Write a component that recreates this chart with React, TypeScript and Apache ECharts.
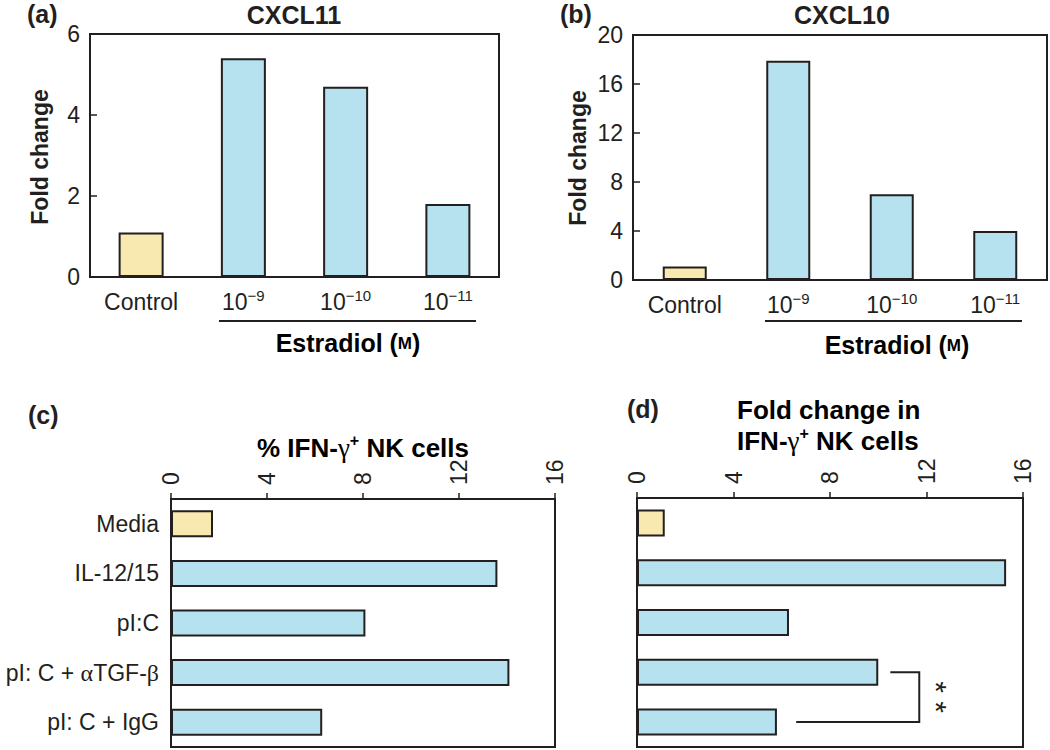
import React, { useEffect, useRef } from "react";
import * as echarts from "echarts";

// ---- data ----
const abCategories = ["Control", "10-9", "10-10", "10-11"];
const cxcl11Values = [1.1, 5.4, 4.7, 1.8];
const cxcl10Values = [1.1, 17.9, 7.0, 4.0];
const cxcl11Ticks = [0, 2, 4, 6];
const cxcl10Ticks = [0, 4, 8, 12, 16, 20];

const nkCategories = ["Media", "IL-12/15", "pI:C", "pI: C + αTGF-β", "pI: C + IgG"];
const pctIfnValues = [1.75, 13.6, 8.1, 14.1, 6.3];
const foldIfnValues = [1.15, 15.3, 6.3, 10.0, 5.8];
const nkTicks = [0, 4, 8, 12, 16];

// significance bracket (d): ends at rows 3 and 4, spine value
const bracketEnds = [10.5, 6.6];
const bracketSpine = 11.7;
const bracketRows = [3, 4];
const bracketLabel = "**";

// ---- styles ----
const font = "Liberation Sans";
const serif = "Liberation Serif";
const ink = "#231f20";
const yellow = "#F7E9AF";
const blue = "#B5E2EE";

const barData = (values: number[]) =>
  values.map((v, i) => ({ value: v, itemStyle: { color: i === 0 ? yellow : blue } }));

const abFormatter = (v: string) =>
  v.startsWith("10-") ? `{n|10}{s|\u2212${v.slice(3)}}` : `{n|${v}}`;

const nkFormatter = (v: string) =>
  v
    .split(/([αβ])/)
    .filter((p) => p.length > 0)
    .map((p) => (/[αβ]/.test(p) ? `{g|${p}}` : `{n|${p}}`))
    .join("");

const abRich = {
  n: { fontSize: 23, lineHeight: 28, fontFamily: font, color: ink },
  s: { fontSize: 15, lineHeight: 15, verticalAlign: "top", fontFamily: font, color: ink },
};
const nkRich = {
  n: { fontSize: 23, lineHeight: 28, fontFamily: font, color: ink },
  g: { fontSize: 24, lineHeight: 28, fontFamily: serif, color: ink },
};

const axisLine = { show: true, lineStyle: { color: ink, width: 2 } };
const valueLabel = { fontSize: 23, fontFamily: font, color: ink, margin: 10 };

const tickRange = (t: number[]) => ({ min: t[0], max: t[t.length - 1], interval: t[1] - t[0] });

const boldText = (text: string, x: number, y: number, size: number, align = "left", extra: any = {}) => ({
  type: "text",
  x,
  y,
  ...extra,
  style: {
    text,
    fontFamily: font,
    fontWeight: "bold",
    fontSize: size,
    fill: ink,
    align,
    verticalAlign: "middle",
    ...(extra.style || {}),
  },
});

const titleRich = (size: number) => ({
  b: { fontFamily: font, fontWeight: "bold", fontSize: size, lineHeight: 31, color: ink },
  g: { fontFamily: serif, fontSize: size + 1, lineHeight: 31, color: ink },
  sp: { fontFamily: font, fontWeight: "bold", fontSize: 16, lineHeight: 16, verticalAlign: "top", color: ink },
  m: { fontFamily: font, fontWeight: "bold", fontSize: 17, lineHeight: 31, color: ink },
});

export default function App() {
  const ref = useRef<HTMLDivElement>(null);

  useEffect(() => {
    if (!ref.current) return;
    const chart = echarts.init(ref.current, undefined, { renderer: "svg" });

    const grids = [
      { left: 90, top: 34, width: 409, height: 243 },
      { left: 633, top: 35, width: 414, height: 245 },
      { left: 171, top: 499, width: 384, height: 248 },
      { left: 637, top: 498, width: 386, height: 249 },
    ].map((g) => ({ ...g, show: true, borderColor: ink, borderWidth: 2, backgroundColor: "transparent" }));

    const catX = (gridIndex: number) => ({
      gridIndex,
      type: "category",
      data: abCategories,
      axisLine,
      axisTick: { show: false },
      axisLabel: { margin: 11, formatter: abFormatter, rich: abRich },
    });

    const valX = (gridIndex: number) => ({
      gridIndex,
      type: "value",
      position: "top",
      ...tickRange(nkTicks),
      axisLine,
      axisTick: { show: true, inside: false, length: 6, lineStyle: { color: ink, width: 1.5 } },
      axisLabel: { ...valueLabel, rotate: -90, margin: 14 },
      splitLine: { show: false },
    });

    const valY = (gridIndex: number, ticks: number[]) => ({
      gridIndex,
      type: "value",
      ...tickRange(ticks),
      axisLine,
      axisTick: { show: true, inside: true, length: 7, lineStyle: { color: ink, width: 1.5 } },
      axisLabel: valueLabel,
      splitLine: { show: false },
    });

    const catY = (gridIndex: number, showLabel: boolean) => ({
      gridIndex,
      type: "category",
      data: nkCategories,
      inverse: true,
      axisLine,
      axisTick: { show: false },
      axisLabel: { show: showLabel, margin: 12, formatter: nkFormatter, rich: nkRich },
    });

    const barStyle = { borderColor: ink, borderWidth: 2 };

    const option: any = {
      animation: false,
      backgroundColor: "#ffffff",
      grid: grids,
      xAxis: [catX(0), catX(1), valX(2), valX(3)],
      yAxis: [valY(0, cxcl11Ticks), valY(1, cxcl10Ticks), catY(2, true), catY(3, false)],
      series: [
        { type: "bar", xAxisIndex: 0, yAxisIndex: 0, barWidth: 45, itemStyle: barStyle, data: barData(cxcl11Values) },
        { type: "bar", xAxisIndex: 1, yAxisIndex: 1, barWidth: 44, itemStyle: barStyle, data: barData(cxcl10Values) },
        { type: "bar", xAxisIndex: 2, yAxisIndex: 2, barWidth: 27, itemStyle: barStyle, data: barData(pctIfnValues) },
        { type: "bar", xAxisIndex: 3, yAxisIndex: 3, barWidth: 27, itemStyle: barStyle, data: barData(foldIfnValues) },
        {
          type: "custom",
          xAxisIndex: 3,
          yAxisIndex: 3,
          dimensions: ["spine", "row1", "end1", "end2", "row2"],
          encode: { x: 0, y: 1 },
          data: [[bracketSpine, bracketRows[0], bracketEnds[0], bracketEnds[1], bracketRows[1]]],
          renderItem: (_params: any, api: any) => {
            const spine = api.value(0);
            const r1 = api.value(1);
            const e1 = api.value(2);
            const e2 = api.value(3);
            const r2 = api.value(4);
            const p1 = api.coord([e1, r1]);
            const p2 = api.coord([spine, r1]);
            const p3 = api.coord([spine, r2]);
            const p4 = api.coord([e2, r2]);
            return {
              type: "group",
              children: [
                {
                  type: "polyline",
                  shape: { points: [p1, p2, p3, p4] },
                  style: { stroke: ink, lineWidth: 2, fill: null },
                },
                {
                  type: "text",
                  x: p2[0] + 17,
                  y: (p2[1] + p3[1]) / 2,
                  rotation: -Math.PI / 2,
                  style: {
                    text: bracketLabel.split("").join(" "),
                    fontFamily: font,
                    fontSize: 30,
                    fill: ink,
                    align: "center",
                    verticalAlign: "middle",
                  },
                },
              ],
            };
          },
        },
      ],
      graphic: [
        boldText("(a)", 27, 14, 25),
        boldText("CXCL11", 294, 15, 25, "center"),
        boldText("(b)", 560, 14, 25),
        boldText("CXCL10", 842, 15, 25, "center"),
        boldText("Fold change", 40, 157, 23, "center", { rotation: Math.PI / 2 }),
        boldText("Fold change", 578, 158, 23, "center", { rotation: Math.PI / 2 }),
        {
          type: "line",
          shape: { x1: 219, y1: 321, x2: 476, y2: 321 },
          style: { stroke: ink, lineWidth: 2 },
        },
        {
          type: "line",
          shape: { x1: 765, y1: 321, x2: 1022, y2: 321 },
          style: { stroke: ink, lineWidth: 2 },
        },
        {
          type: "text",
          x: 348,
          y: 343,
          style: { text: "{b|Estradiol (}{m|M}{b|)}", rich: titleRich(25), align: "center", verticalAlign: "middle" },
        },
        {
          type: "text",
          x: 897,
          y: 345,
          style: { text: "{b|Estradiol (}{m|M}{b|)}", rich: titleRich(25), align: "center", verticalAlign: "middle" },
        },
        boldText("(c)", 28, 415, 25),
        {
          type: "text",
          x: 363,
          y: 448,
          style: {
            text: "{b|% IFN-}{g|\u03b3}{sp|+}{b| NK cells}",
            rich: titleRich(26),
            align: "center",
            verticalAlign: "middle",
          },
        },
        boldText("(d)", 627, 409, 25),
        {
          type: "text",
          x: 737,
          y: 425,
          style: {
            text: "{b|Fold change in}\n{b|IFN-}{g|\u03b3}{sp|+}{b| NK cells}",
            rich: titleRich(26),
            align: "left",
            verticalAlign: "middle",
          },
        },
      ],
    };

    chart.setOption(option);
    return () => chart.dispose();
  }, []);

  return (
    <div
      ref={ref}
      style={{ position: "fixed", left: 0, top: 0, width: 1050, height: 750, background: "#fff" }}
    />
  );
}
